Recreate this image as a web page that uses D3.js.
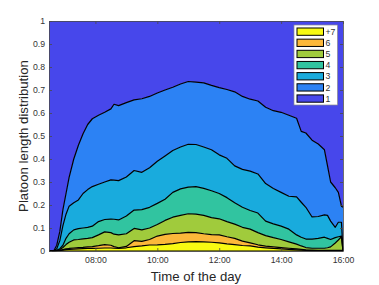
<!DOCTYPE html>
<html>
<head>
<meta charset="utf-8">
<script src="https://cdn.jsdelivr.net/npm/d3@7"></script>
<style>
body{margin:0;background:#fff}
svg{display:block;font-family:"Liberation Sans",Arial,sans-serif}
</style>
</head>
<body>
<div id="chart"></div>
<script>
// time of day in hours
var times = [6.5,6.65,6.75,6.85,6.95,7.05,7.15,7.3,7.45,7.6,7.75,7.9,8.1,8.3,8.5,8.6,8.75,9.0,9.25,9.5,
  9.75,10.0,10.25,10.5,10.75,11.0,11.25,11.5,11.75,12.0,12.25,12.5,12.75,13.0,13.25,13.5,13.75,14.0,14.25,14.5,
  14.65,14.8,15.0,15.2,15.4,15.5,15.6,15.75,15.85,15.95,16.0];

// share of platoons with length >= k
var atLeast2 = [0,0,0.025,0.085,0.18,0.25,0.32,0.40,0.46,0.51,0.55,0.575,0.59,0.603,0.618,0.638,0.632,0.645,0.657,0.662,
  0.672,0.687,0.70,0.712,0.726,0.737,0.734,0.731,0.72,0.71,0.702,0.692,0.672,0.66,0.652,0.625,0.61,0.603,0.59,0.577,
  0.52,0.513,0.482,0.465,0.44,0.37,0.30,0.275,0.255,0.195,0.19];
var atLeast3 = [0,0,0.01,0.045,0.11,0.16,0.195,0.21,0.222,0.25,0.267,0.28,0.29,0.30,0.309,0.308,0.306,0.322,0.35,0.342,
  0.362,0.39,0.413,0.437,0.452,0.464,0.463,0.452,0.44,0.418,0.403,0.37,0.355,0.347,0.335,0.293,0.272,0.255,0.238,0.235,
  0.212,0.19,0.148,0.15,0.157,0.155,0.13,0.103,0.125,0.125,0];
var atLeast4 = [0,0,0.003,0.01,0.025,0.055,0.075,0.092,0.097,0.1,0.103,0.108,0.128,0.137,0.139,0.138,0.135,0.152,0.178,0.18,
  0.19,0.207,0.225,0.255,0.27,0.278,0.28,0.272,0.262,0.25,0.232,0.21,0.19,0.176,0.165,0.13,0.118,0.108,0.095,0.07,
  0.06,0.052,0.052,0.055,0.06,0.055,0.05,0.058,0.062,0.065,0];
var atLeast5 = [0,0,0.002,0.006,0.015,0.028,0.038,0.048,0.05,0.053,0.055,0.058,0.07,0.083,0.08,0.073,0.07,0.075,0.098,0.092,
  0.1,0.115,0.133,0.147,0.155,0.162,0.16,0.155,0.145,0.14,0.128,0.117,0.103,0.095,0.08,0.067,0.058,0.05,0.04,0.03,
  0.022,0.015,0.012,0.012,0.012,0.014,0.018,0.035,0.048,0.062,0];
var atLeast6 = [0,0,0.001,0.003,0.006,0.009,0.011,0.013,0.015,0.016,0.018,0.019,0.023,0.028,0.025,0.019,0.014,0.02,0.045,0.042,
  0.05,0.065,0.072,0.076,0.078,0.081,0.08,0.075,0.071,0.07,0.062,0.055,0.043,0.035,0.027,0.021,0.018,0.015,0.012,0.009,
  0.007,0.005,0.004,0.003,0.003,0.003,0.003,0.003,0.003,0.003,0];
var atLeast7 = [0,0,0.001,0.002,0.004,0.006,0.007,0.008,0.009,0.01,0.011,0.011,0.012,0.013,0.013,0.012,0.011,0.014,0.019,0.022,
  0.026,0.027,0.029,0.032,0.037,0.04,0.041,0.04,0.038,0.035,0.031,0.028,0.024,0.022,0.017,0.014,0.011,0.009,0.007,0.005,
  0.004,0.003,0.002,0.002,0.002,0.002,0.002,0.002,0.002,0.002,0];

var legendLabels = ["+7","6","5","4","3","2","1"];
var colors = ["#F8FA12","#FCB83A","#A0CB3C","#31C4A0","#19ABDD","#2C82F4","#4747EB"];
var xTicks = [8,10,12,14,16];
var xTickLabels = ["08:00","10:00","12:00","14:00","16:00"];
var yTicks = [0,0.1,0.2,0.3,0.4,0.5,0.6,0.7,0.8,0.9,1];
var yTickLabels = ["0","0.1","0.2","0.3","0.4","0.5","0.6","0.7","0.8","0.9","1"];

var W = 379, H = 285;
var m = {l:49, r:36, t:21, b:34};
var pw = W - m.l - m.r, ph = H - m.t - m.b;

var svg = d3.select("#chart").append("svg").attr("width", W).attr("height", H);
var g = svg.append("g").attr("transform", "translate(" + m.l + "," + m.t + ")");

var x = d3.scaleLinear().domain([6.5, 16]).range([0, pw]);
var y = d3.scaleLinear().domain([0, 1]).range([ph, 0]);

var zero = times.map(function(){ return 0; });
var one = times.map(function(){ return 1; });
var bounds = [zero, atLeast7, atLeast6, atLeast5, atLeast4, atLeast3, atLeast2, one];

// filled layers, bottom (+7) to top (1)
for (var k = 0; k < 7; k++) {
  var lo = bounds[k], hi = bounds[k+1];
  var area = d3.area()
    .x(function(d, i){ return x(times[i]); })
    .y0(function(d, i){ return y(lo[i]); })
    .y1(function(d, i){ return y(hi[i]); });
  g.append("path").attr("d", area(times)).attr("fill", colors[k]).attr("stroke", "none");
}

// black edges of the areas
for (var j = 0; j < 7; j++) {
  var arr = bounds[j];
  var line = d3.line()
    .x(function(d, i){ return x(times[i]); })
    .y(function(d, i){ return y(arr[i]); });
  g.append("path").attr("d", line(times)).attr("fill", "none")
    .attr("stroke", "#000").attr("stroke-width", 1.2).attr("stroke-linejoin", "round");
}

// axes (ticks inside, box on)
function styleAxis(sel) {
  sel.selectAll(".domain").attr("stroke", "#4a4a4a").attr("stroke-width", 0.8);
  sel.selectAll(".tick line").attr("stroke", "#4a4a4a").attr("stroke-width", 0.8);
  sel.selectAll("text").attr("fill", "#333").style("font-size", "8.7px")
    .style("font-family", "'Liberation Sans',Arial,sans-serif");
}
g.append("g").attr("transform", "translate(0," + ph + ")")
  .call(d3.axisBottom(x).tickValues(xTicks).tickSizeInner(-3).tickSizeOuter(0).tickPadding(6)
    .tickFormat(function(d, i){ return xTickLabels[i]; }))
  .call(styleAxis);
g.append("g")
  .call(d3.axisTop(x).tickValues(xTicks).tickSizeInner(-3).tickSizeOuter(0).tickFormat(""))
  .call(styleAxis);
g.append("g")
  .call(d3.axisLeft(y).tickValues(yTicks).tickSizeInner(-3).tickSizeOuter(0).tickPadding(4)
    .tickFormat(function(d, i){ return yTickLabels[i]; }))
  .call(styleAxis);
g.append("g").attr("transform", "translate(" + pw + ",0)")
  .call(d3.axisRight(y).tickValues(yTicks).tickSizeInner(-3).tickSizeOuter(0).tickFormat(""))
  .call(styleAxis);

// axis titles
svg.append("text").attr("x", m.l + pw/2).attr("y", 281).attr("text-anchor", "middle")
  .style("font-size", "13.2px").attr("fill", "#262626").text("Time of the day");
svg.append("text").attr("transform", "translate(28," + (m.t + ph/2) + ") rotate(-90)")
  .attr("text-anchor", "middle").style("font-size", "13.2px").attr("fill", "#262626")
  .text("Platoon length distribution");

// legend
var lg = svg.append("g");
lg.append("rect").attr("x", 294).attr("y", 25).attr("width", 43.5).attr("height", 80)
  .attr("fill", "#fff").attr("stroke", "#8a8a8a").attr("stroke-width", 0.7);
legendLabels.forEach(function(lab, i) {
  var yy = 28 + i * 11.15;
  lg.append("rect").attr("x", 297).attr("y", yy).attr("width", 26.5).attr("height", 7.3)
    .attr("fill", colors[i]).attr("stroke", "#000").attr("stroke-width", 1);
  lg.append("text").attr("x", 325.5).attr("y", yy + 3.8).attr("dy", "0.35em")
    .style("font-size", "8.7px").attr("fill", "#333").text(lab);
});
</script>
</body>
</html>
